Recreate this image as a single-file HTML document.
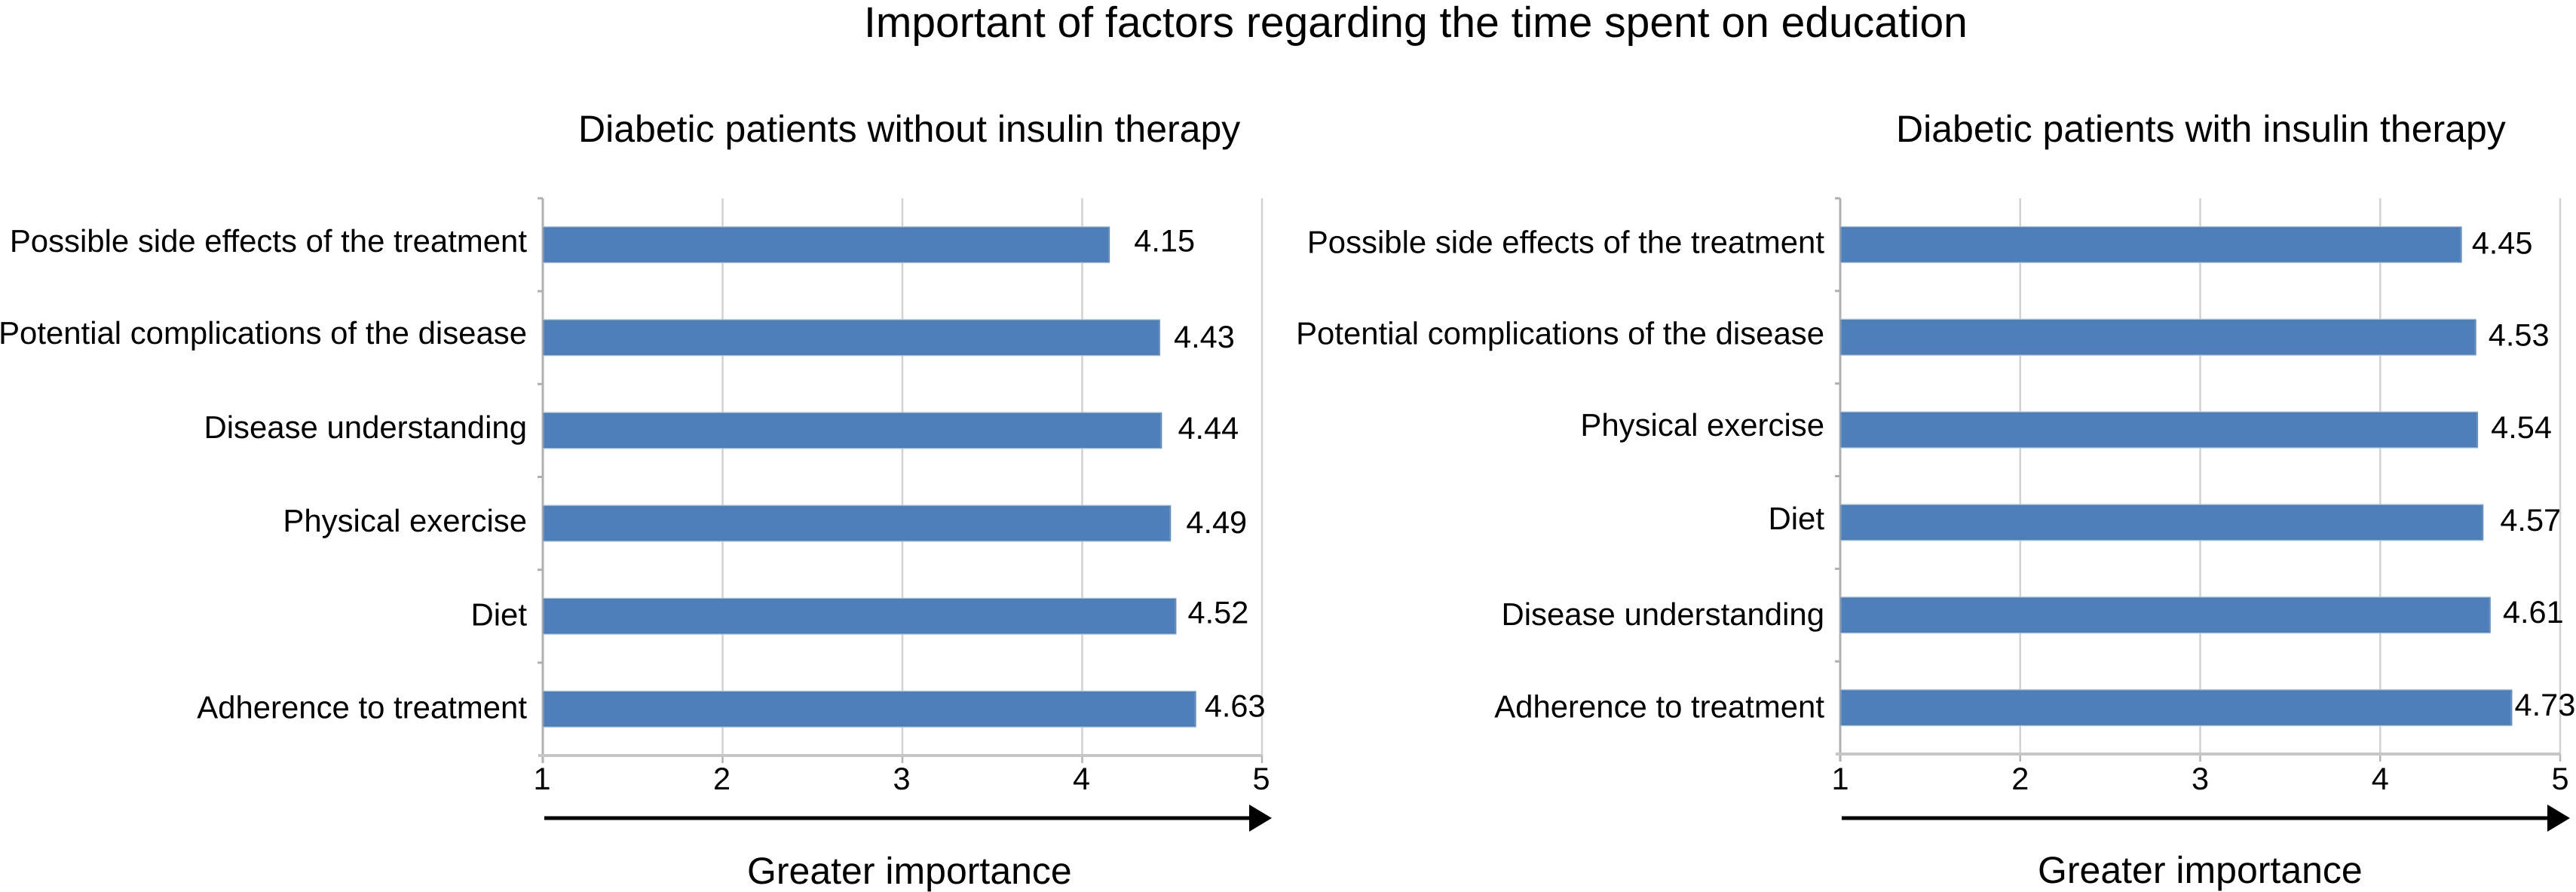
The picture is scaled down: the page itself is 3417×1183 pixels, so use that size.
<!DOCTYPE html>
<html lang="en">
<head>
<meta charset="utf-8">
<title>Important of factors regarding the time spent on education</title>
<style>
html,body{margin:0;padding:0;background:#fff;width:3417px;height:1183px;overflow:hidden}
svg{display:block}
text{font-family:"Liberation Sans",Arial,sans-serif;fill:#000;text-rendering:geometricPrecision}
</style>
</head>
<body>
<svg id="chart" xmlns="http://www.w3.org/2000/svg" width="3417" height="1183" viewBox="0 0 3417 1183">
  <rect x="0" y="0" width="3417" height="1183" fill="#ffffff"/>
  <text x="1146" y="49" font-size="57">Important of factors regarding the time spent on education</text>
  <text x="767" y="188" font-size="50">Diabetic patients without insulin therapy</text>
  <text x="2515" y="188" font-size="50">Diabetic patients with insulin therapy</text>
  <g id="left-panel"></g>
  <g id="right-panel"></g>
  <rect x="722" y="1082.5" width="936" height="5" fill="#000"/>
  <polygon points="1657,1067 1687,1085 1657,1103" fill="#000"/>
  <text x="991" y="1172" font-size="50">Greater importance</text>
  <rect x="2443" y="1082.5" width="937" height="5" fill="#000"/>
  <polygon points="3379,1067 3409,1085 3379,1103" fill="#000"/>
  <text x="2703" y="1171" font-size="50">Greater importance</text>
</svg>
<script>
// Chart data
const tickLabels = [1, 2, 3, 4, 5];
const categoriesLeft = ["Possible side effects of the treatment", "Potential complications of the disease", "Disease understanding", "Physical exercise", "Diet", "Adherence to treatment"];
const valuesLeft = [4.15, 4.43, 4.44, 4.49, 4.52, 4.63];
const categoriesRight = ["Possible side effects of the treatment", "Potential complications of the disease", "Physical exercise", "Diet", "Disease understanding", "Adherence to treatment"];
const valuesRight = [4.45, 4.53, 4.54, 4.57, 4.61, 4.73];

// Hand-placed annotation nudges from the figure (not data)
const valueGapLeft = [33, 19, 22, 21, 16, 12];
const valueRiseLeft = [9, 13, 11, 13, 9, 10];
const catRiseLeft = [9.5, 8, 10, 11, 12, 12];
const valueGapRight = [14, 17, 18, 23, 17, 4];
const valueRiseRight = [12, 11, 11, 11, 10, 10.5];
const catRiseRight = [11, 9, 8, 9, 13, 13];

const NS = "http://www.w3.org/2000/svg";
function make(parent, tag, props, content) {
  const el = document.createElementNS(NS, tag);
  for (const k in props) el.setAttribute(k, props[k]);
  if (content !== undefined) el.textContent = content;
  parent.appendChild(el);
  return el;
}

function drawPanel(cfg) {
  const g = document.getElementById(cfg.id);
  const axisMin = tickLabels[0];
  const axisMax = tickLabels[tickLabels.length - 1];
  const xScale = v => cfg.x0 + (v - axisMin) / (axisMax - axisMin) * (cfg.x1 - cfg.x0);
  const band = (cfg.yBottom - cfg.yTop) / cfg.categories.length;
  const yCenter = i => cfg.yTop + (i + 0.5) * band;
  const barH = 47;

  tickLabels.forEach((t, i) => {
    const x = xScale(t);
    if (i > 0) {
      const grid = make(g, "line", {x1: x, x2: x, y1: cfg.yTop, y2: cfg.yBottom, stroke: "#d2d2d2", "stroke-width": 2.5});
      
      
    }
    const tick = make(g, "line", {x1: x, x2: x, y1: cfg.yBottom, y2: cfg.yBottom + 10, stroke: "#b4b4b4", "stroke-width": 2.5});
    
    
    const label = make(g, "text", {x: x + cfg.tickDx, y: 1047, "font-size": 41.5, "text-anchor": "middle"}, String(t));
    
    
  });

  const yAxis = make(g, "line", {x1: cfg.x0, x2: cfg.x0, y1: cfg.yTop, y2: cfg.yBottom + 10, stroke: "#b0b0b0", "stroke-width": 3});
  
  

  for (let i = 0; i < cfg.categories.length; i++) {
    const yt = cfg.yTop + i * band;
    const tick = make(g, "line", {x1: cfg.x0 - 7, x2: cfg.x0, y1: yt, y2: yt, stroke: "#b0b0b0", "stroke-width": 3});
    
    
  }

  const xAxis = make(g, "line", {x1: cfg.x0 - 6, x2: cfg.x1, y1: cfg.yBottom, y2: cfg.yBottom, stroke: "#c6c6c6", "stroke-width": 4});
  
  

  cfg.categories.forEach((name, i) => {
    const yc = yCenter(i);
    const barEnd = xScale(cfg.values[i]);
    const bar = make(g, "rect", {x: cfg.x0 + 1, y: yc - barH / 2, width: barEnd - cfg.x0 - 1, height: barH, fill: "#4f7fba", stroke: "#a6c2e0", "stroke-width": 2});
    
    
    const edge = make(g, "rect", {x: cfg.x0 + 1, y: yc - barH / 2 + 1, width: barEnd - cfg.x0 - 1, height: barH - 2, fill: "none", stroke: "#47719f", "stroke-width": 1.5, opacity: 0.7});
    
    
    const cat = make(g, "text", {x: cfg.labelX, y: yc + cfg.catRise[i], "font-size": 41.9, "text-anchor": "end"}, name);
    
    
    const val = make(g, "text", {x: barEnd + cfg.valueGap[i], y: yc + cfg.valueRise[i], "font-size": 41.5}, cfg.values[i].toFixed(2));
    
    
  });
}

drawPanel({id: "left-panel", x0: 720, x1: 1674, yTop: 263, yBottom: 1002, tickDx: -1, labelX: 699,
  categories: categoriesLeft, values: valuesLeft, valueGap: valueGapLeft, valueRise: valueRiseLeft, catRise: catRiseLeft});
drawPanel({id: "right-panel", x0: 2441, x1: 3396, yTop: 263, yBottom: 1000, tickDx: 0, labelX: 2420,
  categories: categoriesRight, values: valuesRight, valueGap: valueGapRight, valueRise: valueRiseRight, catRise: catRiseRight});
</script>
</body>
</html>
